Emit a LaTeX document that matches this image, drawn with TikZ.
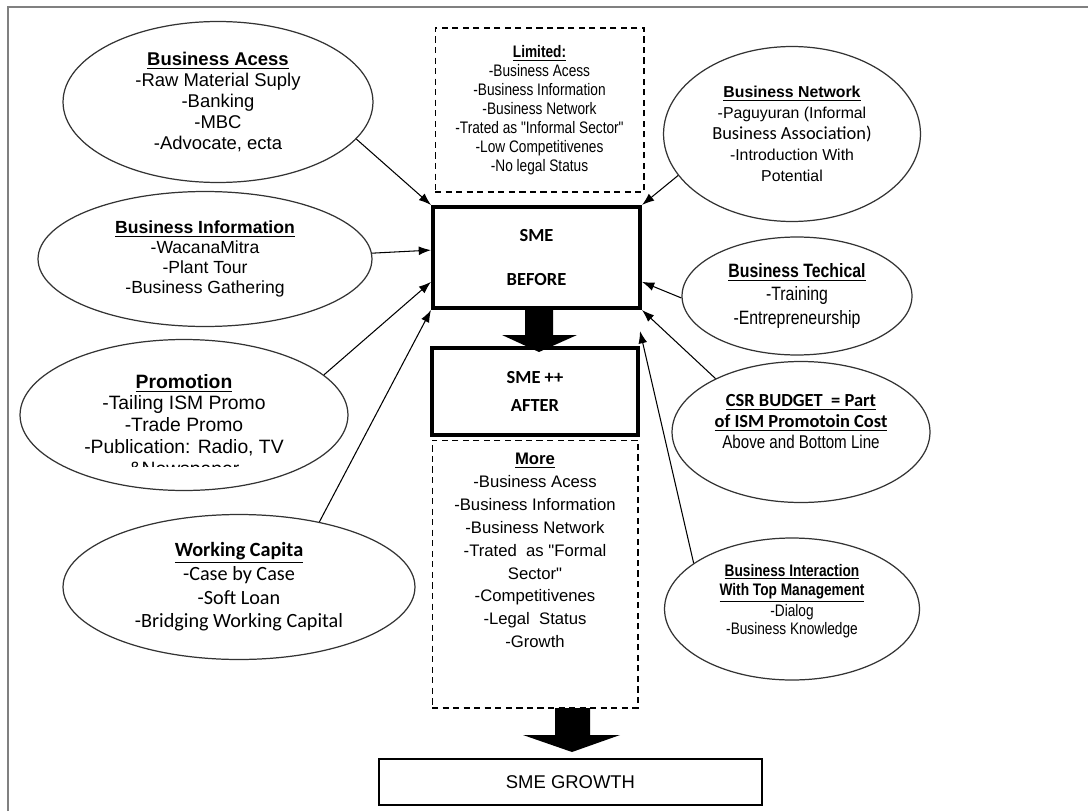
\documentclass[tikz,border=0pt]{standalone}
\usepackage{fontspec}
\setmainfont{Liberation Sans}
\newfontfamily\arial{Liberation Sans}
\newfontfamily\calib{Carlito}
\newfontfamily\narrow{Liberation Sans}[FakeStretch=0.82]
\usetikzlibrary{shapes.geometric,arrows.meta}

\begin{document}
\begin{tikzpicture}[x=0.02cm,y=-0.02cm,
    bubble/.style={ellipse,draw=black!80,line width=0.7pt,inner sep=0pt,align=center},
    dashbox/.style={draw,dash pattern=on 3.5pt off 2.5pt,line width=0.6pt,align=center,inner sep=0pt},
    smebox/.style={draw,line width=2.3pt,align=center,inner sep=0pt},
    pointer/.style={-{Latex[length=7pt,width=5pt]},line width=0.6pt}]
    \useasboundingbox (0,0) rectangle (1088,811);
    \draw[gray,line width=1.2pt] (8,811) -- (8,7) -- (1088,7);

    % left side
    \node at (218,102) [bubble,minimum width=6.2cm,minimum height=3.22cm,font=\fontsize{10.5}{12}\selectfont] (acess) {\textbf{\underline{Business Acess}}\\-Raw Material Suply\\-Banking\\-MBC\\-Advocate,\ ecta};
    \node at (205,259) [bubble,minimum width=6.68cm,minimum height=2.7cm,font=\fontsize{10}{11.5}\selectfont] (info) {\textbf{\underline{Business Information}}\\-WacanaMitra\\-Plant Tour\\-Business Gathering};
    \node at (184,415) [bubble,minimum width=6.56cm,minimum height=3.02cm,font=\fontsize{11}{12.3}\selectfont] (promo) {\textbf{\underline{Promotion}}\\-Tailing ISM Promo\\-Trade Promo\\-Publication: Radio, TV};
    \begin{scope}
        \clip (40,455) rectangle (330,466);
        \node at (184,471) [font=\fontsize{11}{12.3}\selectfont] (promonews) {\&Newspaper};
    \end{scope}
    \node at (239,587) [bubble,minimum width=7.04cm,minimum height=2.9cm,font=\calib\fontsize{11.5}{13.5}\selectfont] (capita) {\textbf{\underline{Working Capita}}\\-Case by Case\\-Soft Loan\\-Bridging Working Capital};

    % middle
    \node at (539.5,110) [dashbox,minimum width=4.18cm,minimum height=3.28cm,font=\narrow\fontsize{9.5}{10.8}\selectfont] (limited) {\textbf{\underline{Limited:}}\\-Business Acess\\-Business Information\\-Business Network\\-Trated as "Informal Sector"\\-Low Competitivenes\\-No legal Status};
    \node at (536.5,257.5) [smebox,minimum width=4.14cm,minimum height=2.02cm,font=\calib\bfseries\fontsize{10.5}{25.5}\selectfont] (before) {SME\\BEFORE};
    \node at (535,391.5) [smebox,minimum width=4.12cm,minimum height=1.74cm,font=\calib\bfseries\fontsize{10.5}{16}\selectfont] (after) {SME ++\\AFTER};
    \node at (535,574) [dashbox,minimum width=4.12cm,minimum height=5.36cm] (more) {};
    \node at (535,453) [anchor=north,align=center,inner sep=0pt,font=\arial\fontsize{9.5}{13}\selectfont] (moretext) {\textbf{\underline{More}}\\-Business Acess\\-Business Information\\-Business Network\\-Trated\ \ as "Formal\\Sector"\\-Competitivenes\\-Legal\ \ Status\\-Growth};
    \node at (570.5,782) [draw,line width=0.8pt,minimum width=7.66cm,minimum height=0.92cm,font=\fontsize{10.5}{12}\selectfont] (growth) {SME GROWTH};
    \fill (525,308) -- (553,308) -- (553,335) -- (577,335) -- (539,352) -- (502,335) -- (525,335) -- cycle;
    \fill (555,708) -- (590,708) -- (590,735) -- (620,735) -- (572,752) -- (523,735) -- (555,735) -- cycle;

    % right side
    \node at (792,134) [bubble,minimum width=5.14cm,minimum height=3.5cm,font=\fontsize{9}{12}\selectfont] (network) {\textbf{\underline{Business Network}}\\-Paguyuran (Informal\\{\calib\fontsize{10.5}{12}\selectfont Business Association)}\\-Introduction With\\Potential};
    \node at (797,296) [bubble,minimum width=4.6cm,minimum height=2.36cm,font=\narrow\fontsize{11}{13.4}\selectfont] (techical) {\textbf{\underline{Business Techical}}\\-Training\\-Entrepreneurship};
    \node at (801,432) [bubble,minimum width=5.16cm,minimum height=2.82cm,font=\fontsize{10.5}{12}\selectfont] (csr) {{\calib\textbf{\underline{CSR BUDGET\ \ = Part}}}\\{\calib\textbf{\underline{of ISM Promotoin\ Cost}}}\\{\narrow Above and Bottom Line}\\ \mbox{}};
    \node at (792,609) [bubble,minimum width=5.1cm,minimum height=2.84cm,font=\narrow\fontsize{9.5}{10.8}\selectfont] (interaction) {\textbf{\underline{Business Interaction}}\\\textbf{\underline{With Top Management}}\\-Dialog\\-Business Knowledge\\ \mbox{}};
    \coordinate (gapR) at (640,331);

    \draw[pointer] (acess.-15) -- (before.north west);
    \draw[pointer] (info.2) -- (before.176);
    \draw[pointer] (promo.16) -- (before.193);
    \draw[pointer] (capita.39) -- (before.south west);
    \draw[pointer] (network.200) -- (before.north east);
    \draw[pointer] (techical.181) -- (before.-13);
    \draw[pointer] (csr.148) -- (before.south east);
    \draw[pointer] (interaction.155) -- (gapR);
\end{tikzpicture}
\end{document}
